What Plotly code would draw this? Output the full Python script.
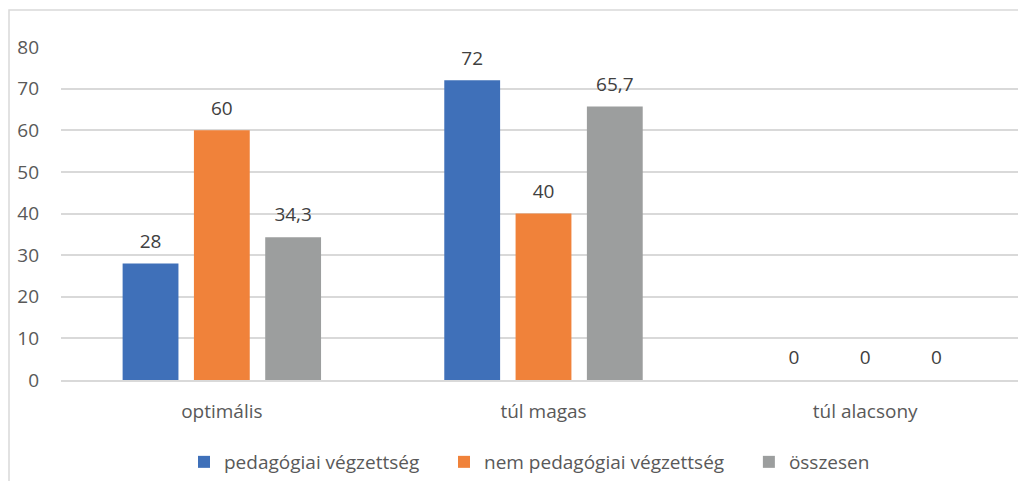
import plotly.graph_objects as go

categories = ["optimális", "túl magas", "túl alacsony"]
series_names = ["pedagógiai végzettség", "nem pedagógiai végzettség", "összesen"]
pedagogiai = [28, 72, 0]
nem_pedagogiai = [60, 40, 0]
osszesen = [34.3, 65.7, 0]
y_ticks = [0, 10, 20, 30, 40, 50, 60, 70, 80]

colors = ["#3F70B9", "#F0823A", "#9C9E9E"]
NB = "\u00a0"
legend_pad = [4, 4, 0]

def fmt(v):
    return ("%g" % v).replace(".", ",")

FONT = "Open Sans"
FS = 19
fig = go.Figure()
series = [pedagogiai, nem_pedagogiai, osszesen]
for i, (name, vals, col) in enumerate(zip(series_names, series, colors)):
    fig.add_trace(go.Bar(
        x=categories, y=vals, name=name + NB * legend_pad[i],
        marker=dict(color=col, line=dict(width=0)), offsetgroup=str(i),
    ))
for i, (name, vals, col) in enumerate(zip(series_names, series, colors)):
    fig.add_trace(go.Scatter(
        x=categories, y=vals, mode="markers+text", showlegend=False, hoverinfo="skip",
        marker=dict(size=16, opacity=0), offsetgroup=str(i),
        text=[fmt(v) for v in vals], textposition="top center",
        textfont=dict(family=FONT, size=FS, color="#404040"), cliponaxis=False,
    ))

# page body has an 8px margin, so the figure is 8px smaller than the window
W, H = 1018, 473
L, T, B = 53, 39, 101
plot_w = W - L
plot_h = H - T - B

fig.update_layout(
    width=W, height=H,
    margin=dict(l=L, r=0, t=T, b=B, autoexpand=False),
    paper_bgcolor="white", plot_bgcolor="white",
    barmode="group", bargap=0.335, bargroupgap=0.217,
    scattermode="group", scattergap=0.335,
    font=dict(family=FONT, size=FS, color="#595959"),
    showlegend=True,
    legend=dict(orientation="h", x=(184 - 61) / plot_w, xanchor="left",
                y=-82 / plot_h, yanchor="middle",
                font=dict(family=FONT, size=FS, color="#595959"), itemwidth=30,
                traceorder="normal"),
    xaxis=dict(showline=True, linecolor="#D9D9D9", linewidth=1.5, ticks="",
               ticklabelstandoff=13, tickfont=dict(size=FS, color="#595959")),
    yaxis=dict(range=[0, 80], tickvals=y_ticks, showgrid=True, gridcolor="#D9D9D9",
               gridwidth=1.5, zeroline=False, showline=False, ticks="", ticklabelstandoff=21,
               tickfont=dict(size=FS, color="#595959")),
    shapes=[dict(type="rect", xref="paper", yref="paper",
                 x0=-52 / plot_w, x1=1.1, y0=-0.5, y1=1 + 37 / plot_h,
                 line=dict(color="#D9D9D9", width=1.5), fillcolor="rgba(0,0,0,0)", layer="below")],
)
fig.write_html("out.html")
